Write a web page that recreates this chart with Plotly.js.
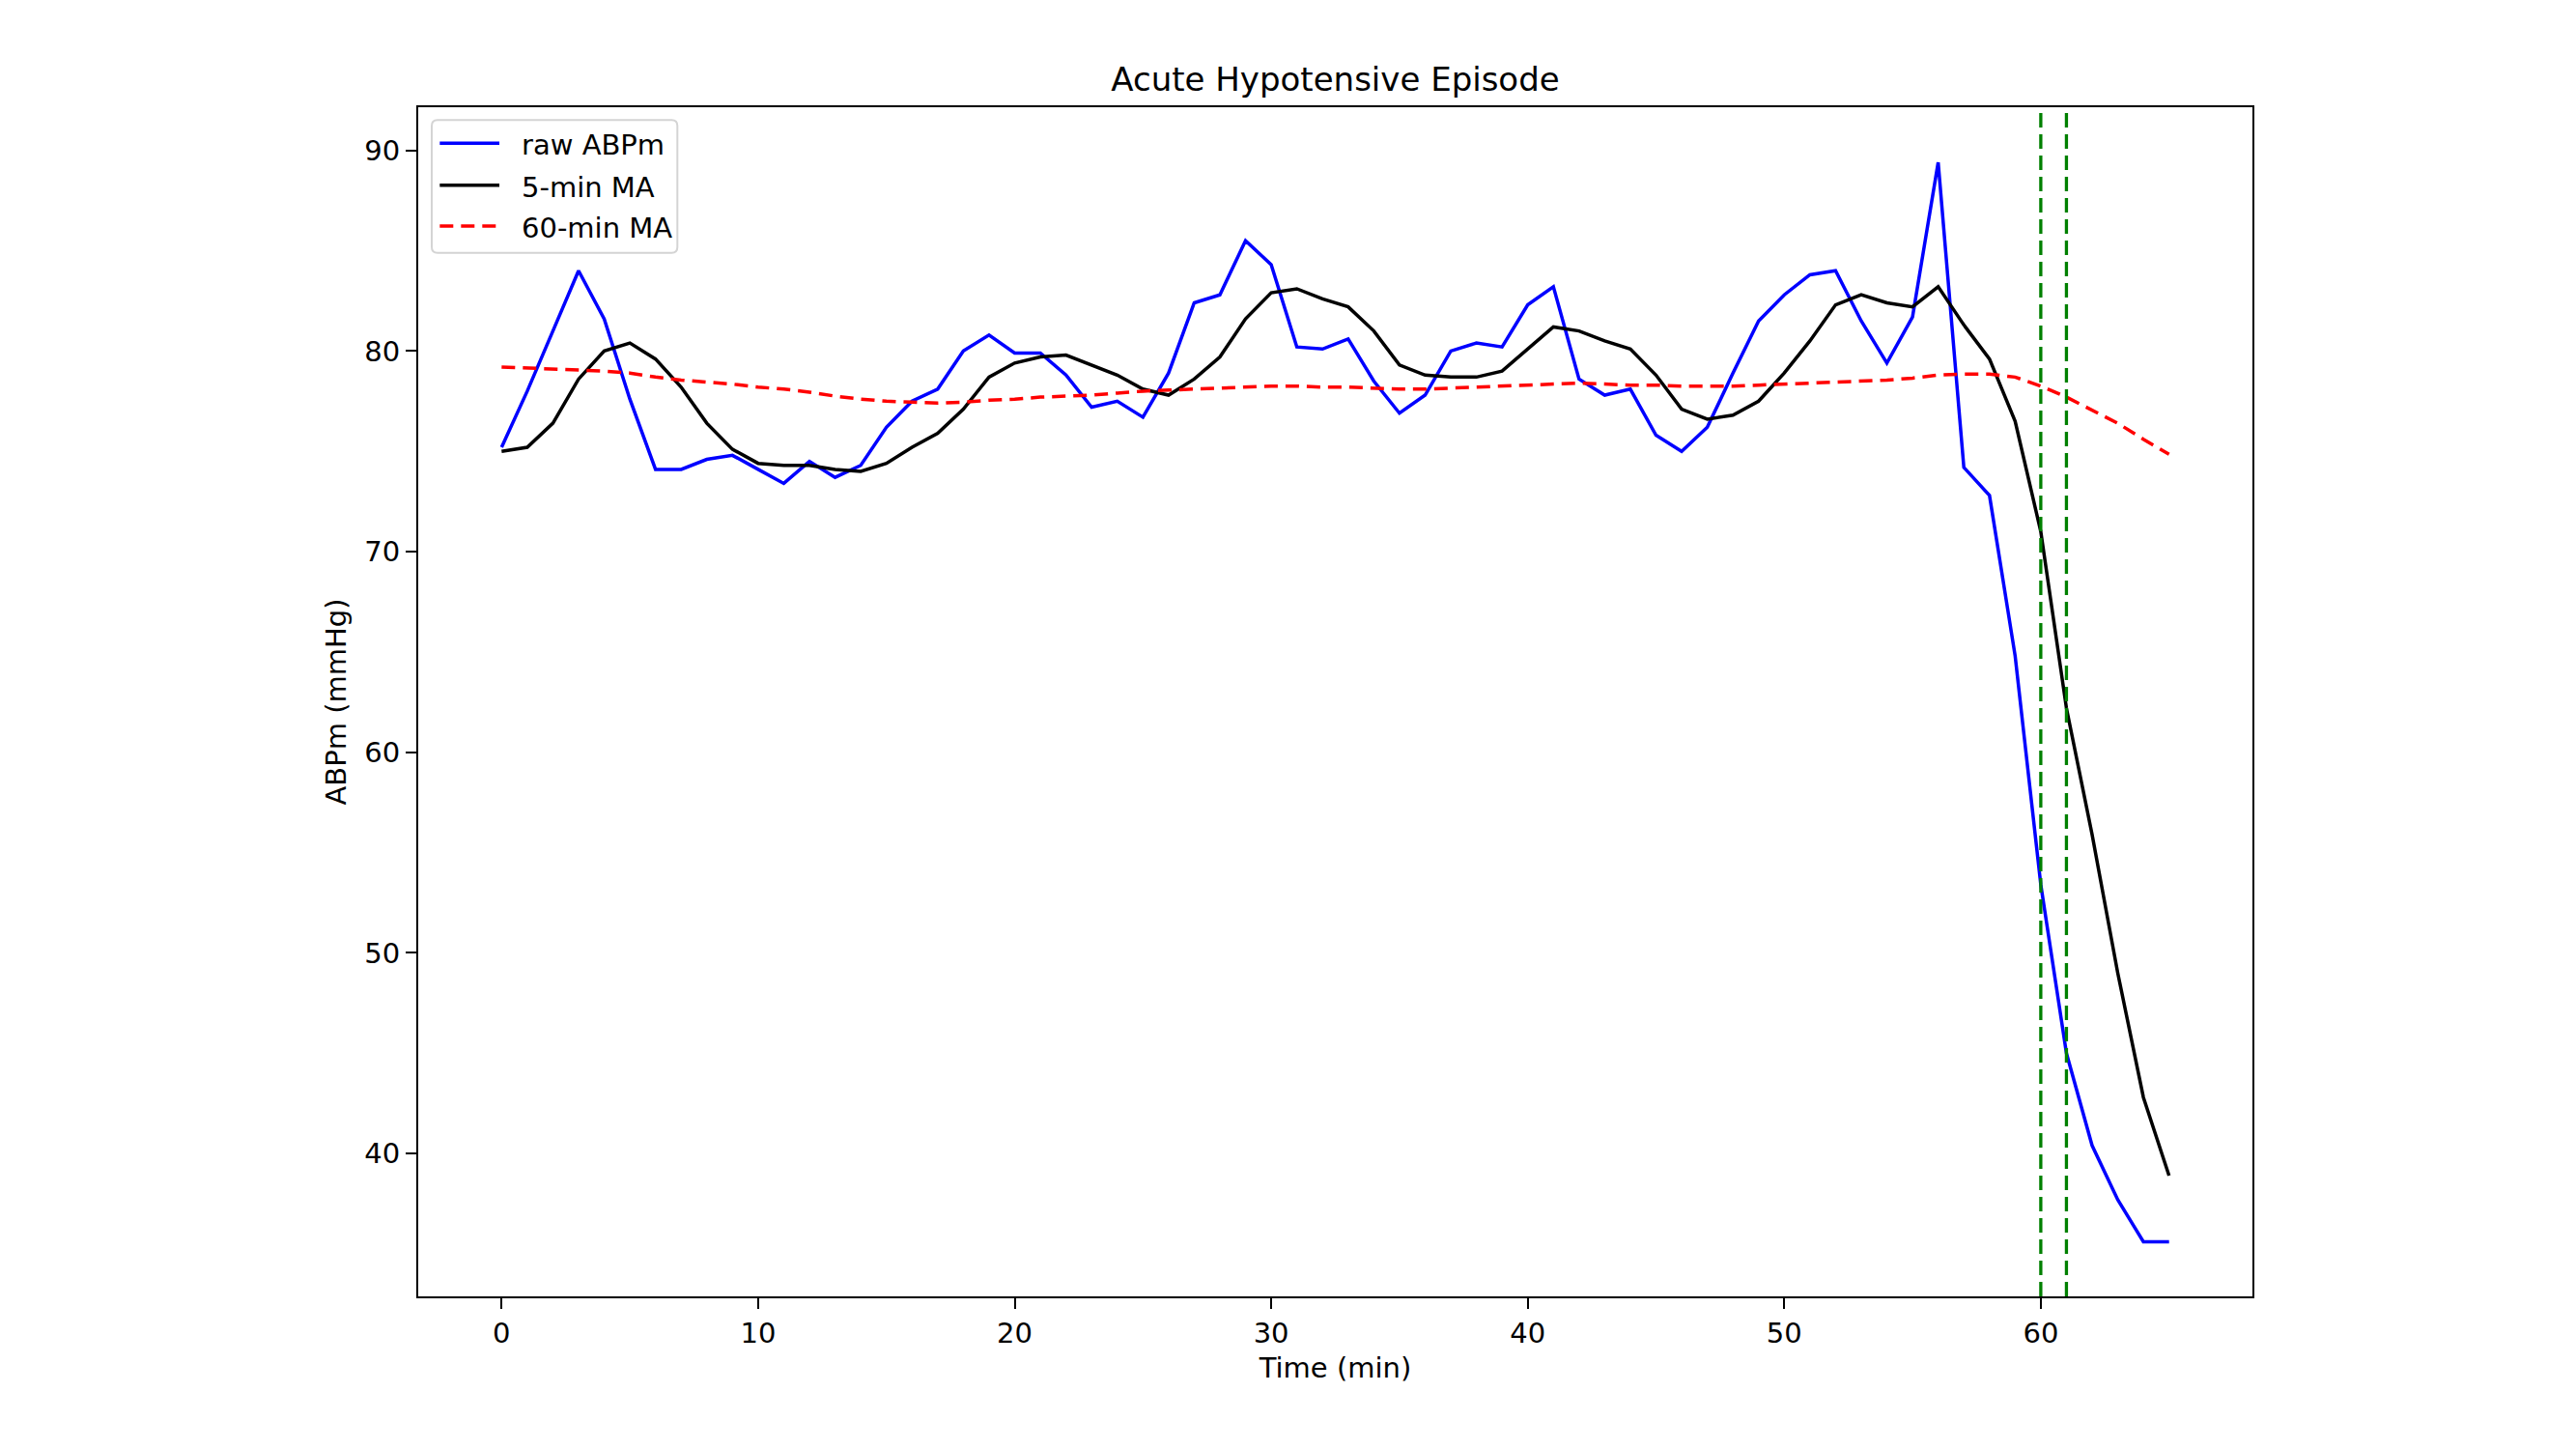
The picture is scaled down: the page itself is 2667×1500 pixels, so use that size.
<!DOCTYPE html>
<html>
<head>
<meta charset="utf-8">
<script src="https://cdn.plot.ly/plotly-3.0.1.min.js"></script>
<style>html,body{margin:0;padding:0;background:#fff;}#chart{width:2667px;height:1500px;}</style>
</head>
<body>
<div id="chart"></div>
<script>
const minutes = Array.from({length: 66}, (_, i) => i);

const rawABPm = [
  75.2, 78.0, 81.0, 84.0, 81.6, 77.6, 74.1, 74.1, 74.6, 74.8,
  74.1, 73.4, 74.5, 73.7, 74.3, 76.2, 77.5, 78.1, 80.0, 80.8,
  79.9, 79.9, 78.8, 77.2, 77.5, 76.7, 78.9, 82.4, 82.8, 85.5,
  84.3, 80.2, 80.1, 80.6, 78.5, 76.9, 77.8, 80.0, 80.4, 80.2,
  82.3, 83.2, 78.6, 77.8, 78.1, 75.8, 75.0, 76.2, 78.9, 81.5,
  82.8, 83.8, 84.0, 81.5, 79.4, 81.7, 89.4, 74.2, 72.8, 64.8,
  53.4, 45.0, 40.4, 37.7, 35.6, 35.6
];

const ma5 = [
  75.0, 75.2, 76.4, 78.6, 80.0, 80.4, 79.6, 78.2, 76.4, 75.1,
  74.4, 74.3, 74.3, 74.1, 74.0, 74.4, 75.2, 75.9, 77.1, 78.7,
  79.4, 79.7, 79.8, 79.3, 78.8, 78.1, 77.8, 78.6, 79.7, 81.6,
  82.9, 83.1, 82.6, 82.2, 81.0, 79.3, 78.8, 78.7, 78.7, 79.0,
  80.1, 81.2, 81.0, 80.5, 80.1, 78.8, 77.1, 76.6, 76.8, 77.5,
  78.9, 80.5, 82.3, 82.8, 82.4, 82.2, 83.2, 81.3, 79.6, 76.5,
  71.0, 62.2, 55.9, 49.0, 42.8, 38.9
];

const ma60 = [
  79.2, 79.15, 79.1, 79.05, 79.0, 78.9, 78.7, 78.55, 78.45, 78.35,
  78.2, 78.1, 77.95, 77.75, 77.6, 77.5, 77.45, 77.4, 77.45, 77.55,
  77.6, 77.7, 77.75, 77.8, 77.9, 78.0, 78.05, 78.1, 78.15, 78.2,
  78.25, 78.25, 78.2, 78.2, 78.15, 78.1, 78.1, 78.15, 78.2, 78.25,
  78.3, 78.35, 78.4, 78.35, 78.3, 78.3, 78.25, 78.25, 78.25, 78.3,
  78.35, 78.4, 78.45, 78.5, 78.55, 78.65, 78.8, 78.85, 78.85, 78.7,
  78.25, 77.7, 77.05, 76.4, 75.6, 74.85
];

const eventMinutes = [60, 61];
const seriesNames = ['raw ABPm', '5-min MA', '60-min MA'];
const xTicks = [0, 10, 20, 30, 40, 50, 60];
const yTicks = [40, 50, 60, 70, 80, 90];

const FONT = 'DejaVu Sans, sans-serif';
const seriesLines = [
  {color: '#0000ff', width: 3.5},
  {color: '#000000', width: 3.5},
  {color: '#ff0000', width: 3.5, dash: '14px,8px'}
];
const seriesValues = [rawABPm, ma5, ma60];

const traces = seriesValues.map((vals, i) => ({
  x: minutes, y: vals, name: seriesNames[i], mode: 'lines',
  line: seriesLines[i], showlegend: false
}));

const shapes = eventMinutes.map(m => ({
  type: 'line', xref: 'x', yref: 'paper', x0: m, x1: m, y0: 0, y1: 1,
  line: {color: '#008000', width: 3.3, dash: '15px,7px'}, layer: 'above'
}));

// Matplotlib-style legend box (upper left), in paper coordinates
const PW = 1898.9, PH = 1231;
const bx0 = 14 / PW, bx1 = 268.3 / PW, byTop = 1 - 13.3 / PH, byBot = 1 - 150.7 / PH;
const rx = 6 / PW, ry = 6 / PH;
shapes.push({
  type: 'path', xref: 'paper', yref: 'paper', layer: 'above',
  path: `M${bx0+rx},${byTop} L${bx1-rx},${byTop} Q${bx1},${byTop} ${bx1},${byTop-ry} ` +
        `L${bx1},${byBot+ry} Q${bx1},${byBot} ${bx1-rx},${byBot} L${bx0+rx},${byBot} ` +
        `Q${bx0},${byBot} ${bx0},${byBot+ry} L${bx0},${byTop-ry} Q${bx0},${byTop} ${bx0+rx},${byTop} Z`,
  fillcolor: 'rgba(255,255,255,0.8)', line: {color: '#d4d4d4', width: 2}
});
const rowY = [1 - 37.3 / PH, 1 - 80.7 / PH, 1 - 123 / PH];
const annotations = [];
seriesNames.forEach((nm, i) => {
  shapes.push({
    type: 'line', xref: 'paper', yref: 'paper', layer: 'above',
    x0: 22.3 / PW, x1: 84 / PW, y0: rowY[i], y1: rowY[i],
    line: seriesLines[i]
  });
  annotations.push({
    xref: 'paper', yref: 'paper', x: 105.3 / PW, y: rowY[i] - 2 / PH,
    xanchor: 'left', yanchor: 'middle', showarrow: false, text: nm,
    font: {family: FONT, size: 29, color: '#000'}
  });
});

const layout = {
  width: 2667, height: 1500,
  paper_bgcolor: '#ffffff', plot_bgcolor: '#ffffff',
  margin: {l: 433, r: 335, t: 111, b: 158, pad: 0},
  font: {family: FONT, size: 29, color: '#000000'},
  title: {text: 'Acute Hypotensive Episode', font: {family: FONT, size: 34, color: '#000'},
          x: 0.5, xref: 'paper', xanchor: 'center', y: 1 - 82/1500, yref: 'container', yanchor: 'middle'},
  xaxis: {
    range: [-3.25, 68.25], tickmode: 'array', tickvals: xTicks, ticktext: xTicks.map(String),
    showgrid: false, zeroline: false, showline: true, linecolor: '#000', linewidth: 2, mirror: true,
    ticks: 'outside', ticklen: 11, tickwidth: 2, tickcolor: '#000',
    tickfont: {family: FONT, size: 29, color: '#000'},
    title: {text: 'Time (min)', font: {family: FONT, size: 29, color: '#000'}, standoff: 10}
  },
  yaxis: {
    range: [32.88, 92.15], tickmode: 'array', tickvals: yTicks, ticktext: yTicks.map(String),
    showgrid: false, zeroline: false, showline: true, linecolor: '#000', linewidth: 2, mirror: true,
    ticks: 'outside', ticklen: 11, tickwidth: 2, tickcolor: '#000',
    tickfont: {family: FONT, size: 29, color: '#000'},
    title: {text: 'ABPm (mmHg)', font: {family: FONT, size: 29, color: '#000'}, standoff: 10}
  },
  showlegend: false,
  shapes: shapes,
  annotations: annotations
};

Plotly.newPlot('chart', traces, layout, {displayModeBar: false, staticPlot: true});
</script>
</body>
</html>
